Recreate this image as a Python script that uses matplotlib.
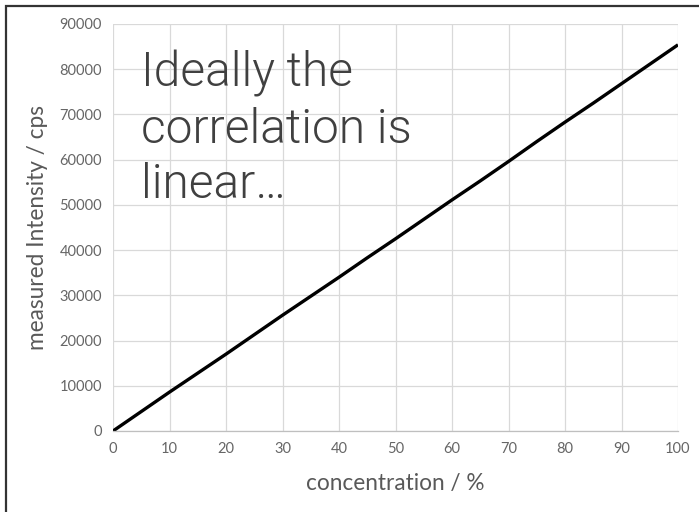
import matplotlib
matplotlib.use("Agg")
import matplotlib.pyplot as plt
from matplotlib.patches import Rectangle

concentration = [0, 5, 10, 15, 20, 25, 30, 35, 40, 45, 50, 55, 60, 65, 70, 75, 80, 85, 90, 95, 100]
intensity = [0, 4300, 8600, 12800, 17000, 21300, 25600, 29800, 34000, 38300, 42500, 46800, 51100, 55300, 59600, 64000, 68300, 72500, 76800, 81100, 85400]
x_ticks = [0, 10, 20, 30, 40, 50, 60, 70, 80, 90, 100]
y_ticks = [0, 10000, 20000, 30000, 40000, 50000, 60000, 70000, 80000, 90000]

plt.rcParams['font.family'] = ['Lato', 'DejaVu Sans']

fig = plt.figure(figsize=(6.99, 5.12), dpi=100)
ax = fig.add_axes([113/699, 1-431/512, (678-113)/699, (431-24)/512])

ax.plot(concentration, intensity, color='black', linewidth=2.4, solid_capstyle='butt')
ax.set_xlim(0, 100)
ax.set_ylim(0, 90000)
ax.set_xticks(x_ticks)
ax.set_yticks(y_ticks)
ax.grid(True, color='#d9d9d9', linewidth=0.9)
ax.set_axisbelow(True)
for s in ['top', 'right', 'left']:
    ax.spines[s].set_visible(False)
ax.spines['bottom'].set_color('#bfbfbf')
ax.spines['bottom'].set_linewidth(0.9)
ax.tick_params(length=0, labelsize=10.5, labelcolor='#666666', pad=8)
ax.set_xlabel('concentration / %', fontsize=16.3, color='#595959', labelpad=12)
ax.set_ylabel('measured Intensity / cps', fontsize=16.3, color='#595959', labelpad=8)

fig.text(141/699, 1-50/512, 'Ideally the\ncorrelation is\nlinear…', family='Roboto', fontweight=300,
         fontsize=34.5, color='#404040', va='top', ha='left', linespacing=1.27)

fig.patches.append(Rectangle((6/699, -0.1), 1.2, 1-6/512+0.1, transform=fig.transFigure,
                             fill=False, edgecolor='#333333', linewidth=1.6))

fig.savefig('out.png', dpi=100)
